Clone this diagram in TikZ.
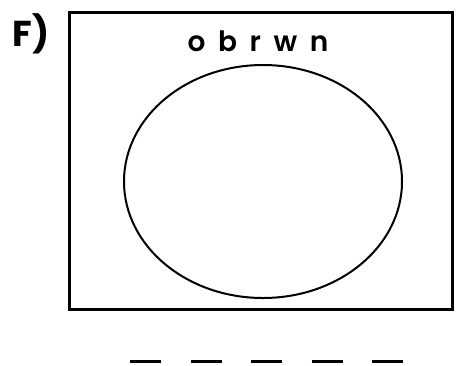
\documentclass[tikz,border=0pt]{standalone}
\usepackage{fontspec}
\setmainfont{Poppins}
\newfontfamily\lettersfont{Poppins SemiBold}
\begin{document}
\begin{tikzpicture}[x=1pt,y=-1pt,
  blank/.style={line width=3pt,line cap=butt}]
\useasboundingbox (0,0) rectangle (460,365);

\node [font=\fontsize{36}{36}\selectfont\bfseries] (tag) at (31,33.5) {F)};
\draw [line width=3pt] (69,12) rectangle (452,309);
\node [font=\fontsize{28}{28}\selectfont\lettersfont] (letters) at (258,41) {\addfontfeature{LetterSpace=45}obrwn};
\draw [line width=2pt] (263,181.5) ellipse (139 and 116.5);
\foreach \x in {130,190.5,...,400}
  \draw [blank] (\x,361) -- ++(31,0);

\end{tikzpicture}
\end{document}
